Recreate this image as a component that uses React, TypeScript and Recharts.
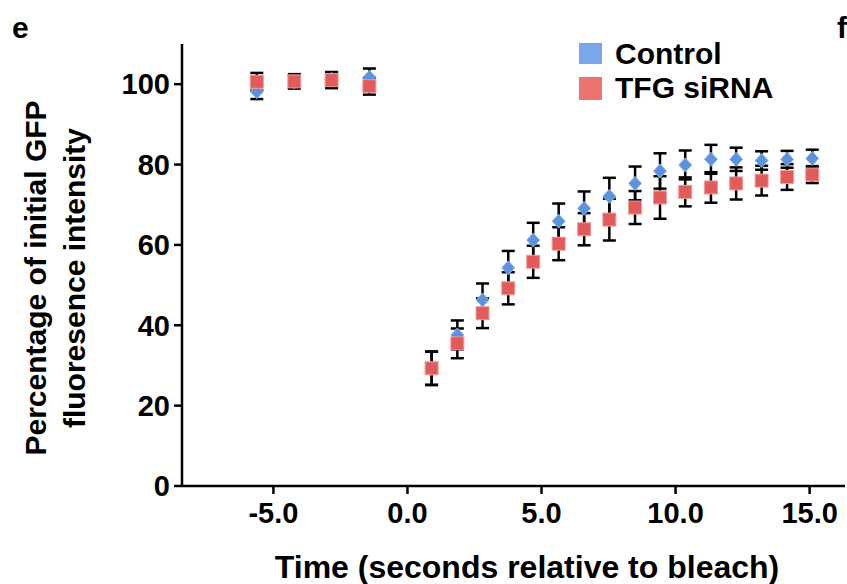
import React from 'react';
import { ScatterChart, Scatter, XAxis, YAxis, ErrorBar } from 'recharts';

const FONT = '"Liberation Sans", Arial, Helvetica, sans-serif';

const times = [-5.62, -4.22, -2.83, -1.42, 0.9, 1.86, 2.8, 3.76, 4.69, 5.64, 6.59, 7.53, 8.49, 9.42, 10.36, 11.32, 12.26, 13.21, 14.16, 15.1];
const controlMean = [98.1, 100.6, 101.2, 101.7, 29.3, 37.6, 46.3, 54.3, 61.2, 65.9, 69.1, 72.1, 75.3, 78.4, 79.9, 81.3, 81.3, 81.0, 81.3, 81.5];
const controlErr = [1.8, 1.5, 1.8, 2.2, 4.1, 3.6, 4.1, 4.2, 4.3, 4.4, 4.2, 4.6, 4.2, 4.4, 3.6, 3.6, 2.9, 2.3, 2.1, 2.2];
const tfgMean = [100.6, 100.7, 101.0, 99.5, 29.3, 35.5, 43.0, 49.2, 55.8, 60.3, 63.9, 66.3, 69.3, 71.8, 73.2, 74.3, 75.3, 76.0, 76.9, 77.5];
const tfgErr = [2.2, 1.8, 2.0, 2.1, 4.2, 3.7, 3.7, 4.0, 4.0, 4.1, 4.0, 5.2, 4.1, 5.3, 3.6, 3.8, 4.0, 3.7, 3.2, 2.1];
const xTicks = [-5, 0, 5, 10, 15];
const yTicks = [0, 20, 40, 60, 80, 100];
const seriesNames = ['Control', 'TFG siRNA'];

const controlData = times.map((t, i) => ({ t, v: controlMean[i], e: controlErr[i] }));
const tfgData = times.map((t, i) => ({ t, v: tfgMean[i], e: tfgErr[i] }));

const BLUE = '#5b93de';
const BLUE_EDGE = '#8db4ea';
const RED = '#e25b5b';
const RED_EDGE = '#f09c9c';

const Diamond = (props: any) => {
  const { cx, cy } = props;
  if (cx == null || cy == null) return null;
  return (
    <polygon
      points={`${cx},${cy - 7} ${cx + 6.5},${cy} ${cx},${cy + 7} ${cx - 6.5},${cy}`}
      fill={BLUE}
      stroke={BLUE_EDGE}
      strokeWidth={1}
    />
  );
};

const Square = (props: any) => {
  const { cx, cy } = props;
  if (cx == null || cy == null) return null;
  return <rect x={cx - 6.5} y={cy - 6.5} width={13} height={13} fill={RED} stroke={RED_EDGE} strokeWidth={1} />;
};

const tickStyle = { fill: '#000', fontSize: 29, fontWeight: 'bold', fontFamily: FONT };

export default function App() {
  return (
    <div style={{ position: 'absolute', left: 0, top: 0, width: 847, height: 584, background: '#fff', overflow: 'hidden' }}>
      <ScatterChart width={847} height={584} margin={{ top: 44, right: 2, bottom: 38, left: 0 }}>
        <XAxis
          type="number"
          dataKey="t"
          domain={[-8.41, 16.32]}
          allowDataOverflow
          ticks={xTicks}
          tickFormatter={(v: number) => v.toFixed(1)}
          tick={tickStyle}
          tickSize={8}
          tickMargin={8}
          height={60}
          axisLine={{ stroke: '#000', strokeWidth: 2.5 }}
          tickLine={{ stroke: '#000', strokeWidth: 2.5 }}
        />
        <YAxis
          type="number"
          dataKey="v"
          domain={[0, 110]}
          allowDataOverflow
          ticks={yTicks}
          tick={tickStyle}
          tickSize={8}
          tickMargin={4}
          width={182}
          axisLine={{ stroke: '#000', strokeWidth: 2.5 }}
          tickLine={{ stroke: '#000', strokeWidth: 2.5 }}
        />
        <Scatter name={seriesNames[0]} data={controlData} shape={Diamond} isAnimationActive={false}>
          <ErrorBar dataKey="e" direction="y" width={6.5} stroke="#000" strokeWidth={2.5} />
        </Scatter>
        <Scatter name={seriesNames[1]} data={tfgData} shape={Square} isAnimationActive={false}>
          <ErrorBar dataKey="e" direction="y" width={6.5} stroke="#000" strokeWidth={2.5} />
        </Scatter>
      </ScatterChart>
      <svg width={847} height={584} style={{ position: 'absolute', left: 0, top: 0, pointerEvents: 'none' }}>
        <text x={12} y={38} fontFamily={FONT} fontWeight="bold" fontSize={30} fill="#000">e</text>
        <text x={837} y={38} fontFamily={FONT} fontWeight="bold" fontSize={30} fill="#000">f</text>
        <g>
          <rect x={579} y={43} width={23} height={21} fill="#7aa7e8" />
          <text x={615} y={64} fontFamily={FONT} fontWeight="bold" fontSize={30} fill="#000">{seriesNames[0]}</text>
          <rect x={579} y={77} width={23} height={23} fill="#ec7470" />
          <text x={615} y={98} fontFamily={FONT} fontWeight="bold" fontSize={30} fill="#000">{seriesNames[1]}</text>
        </g>
        <text x={527} y={578} textAnchor="middle" fontFamily={FONT} fontWeight="bold" fontSize={32} fill="#000">
          Time (seconds relative to bleach)
        </text>
        <g transform="translate(46,278) rotate(-90)">
          <text x={0} y={0} textAnchor="middle" fontFamily={FONT} fontWeight="bold" fontSize={30} fill="#000">
            Percentage of initial GFP
          </text>
        </g>
        <g transform="translate(85,278) rotate(-90)">
          <text x={0} y={0} textAnchor="middle" fontFamily={FONT} fontWeight="bold" fontSize={30} fill="#000">
            fluoresence intensity
          </text>
        </g>
      </svg>
    </div>
  );
}
